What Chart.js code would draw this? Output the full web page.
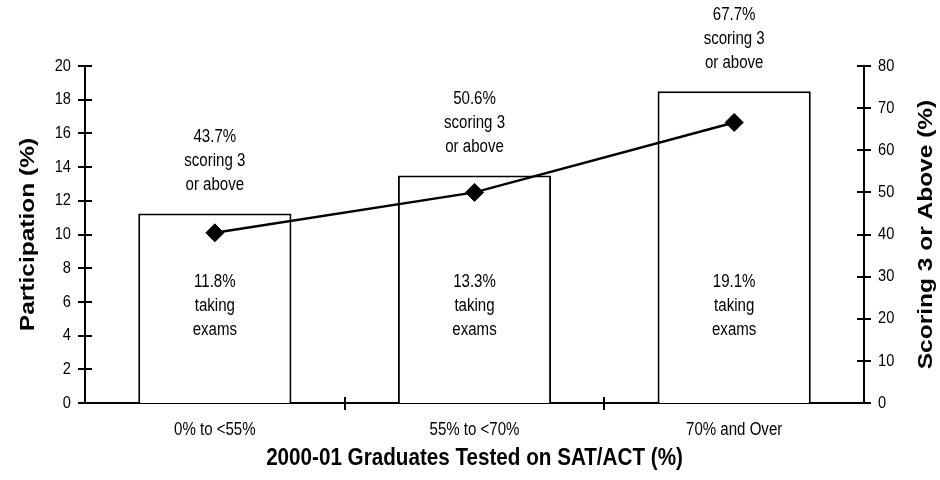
<!DOCTYPE html>
<html><head><meta charset="utf-8">
<script src="https://cdn.jsdelivr.net/npm/chart.js@4.4.1/dist/chart.umd.min.js"></script>
<style>html,body{margin:0;padding:0;background:#fff}</style></head>
<body>
<canvas id="c" width="940" height="480"></canvas>
<script>
const categories = ['0% to <55%', '55% to <70%', '70% and Over'];
const participation = [11.25, 13.5, 18.5];
const scoring = [40.4, 50.0, 66.6];
const scoringLabels = ['43.7%', '50.6%', '67.7%'];
const takingLabels = ['11.8%', '13.3%', '19.1%'];
const scoringText = ['scoring 3', 'or above'];
const takingText = ['taking', 'exams'];
const xTitle = '2000-01 Graduates Tested on SAT/ACT (%)';
const yLeftTitle = 'Participation (%)';
const yRightTitle = 'Scoring 3 or Above (%)';

const FONT = "'Liberation Sans', Arial, sans-serif";
const SQ = 0.86; // horizontal condensing of the original lettering
Chart.defaults.font.family = FONT;
Chart.defaults.color = '#000';

function sqText(ctx, text, x, y, font, rot, align) {
  ctx.save();
  ctx.translate(x, y);
  ctx.scale(SQ, 1);
  if (rot) ctx.rotate(rot);
  ctx.font = font;
  ctx.textAlign = align || 'center';
  ctx.textBaseline = 'middle';
  ctx.fillStyle = '#000';
  ctx.fillText(text, 0, 0);
  ctx.restore();
}

const decor = {
  id: 'decor',
  afterDatasetsDraw(chart) {
    const ctx = chart.ctx;
    const yL = chart.scales.yL, yR = chart.scales.yR, x = chart.scales.x;
    const area = chart.chartArea;
    const tickFont = '17px ' + FONT;
    ctx.save();
    ctx.strokeStyle = '#000';
    ctx.lineWidth = 2;
    yL.ticks.forEach(t => {
      const py = Math.round(yL.getPixelForValue(t.value));
      ctx.beginPath(); ctx.moveTo(yL.right - 7, py); ctx.lineTo(yL.right + 7, py); ctx.stroke();
    });
    yR.ticks.forEach(t => {
      const py = Math.round(yR.getPixelForValue(t.value));
      ctx.beginPath(); ctx.moveTo(yR.left - 7, py); ctx.lineTo(yR.left + 7, py); ctx.stroke();
    });
    for (let i = 0; i < categories.length - 1; i++) {
      const px = Math.round((x.getPixelForValue(i) + x.getPixelForValue(i + 1)) / 2);
      ctx.beginPath(); ctx.moveTo(px, x.top - 6); ctx.lineTo(px, x.top + 7); ctx.stroke();
    }
    ctx.restore();

    yL.ticks.forEach(t => sqText(ctx, String(t.value), yL.right - 14, yL.getPixelForValue(t.value), tickFont, 0, 'right'));
    yR.ticks.forEach(t => sqText(ctx, String(t.value), yR.left + 14, yR.getPixelForValue(t.value), tickFont, 0, 'left'));

    const annFont = '17.5px ' + FONT;
    const lh = 24;
    categories.forEach((c, i) => {
      const cx = x.getPixelForValue(i);
      const top = yL.getPixelForValue(participation[i]);
      const lines = [scoringLabels[i]].concat(scoringText);
      const last = top - 28;
      lines.forEach((l, k) => sqText(ctx, l, cx, last - (lines.length - 1 - k) * lh, annFont));
      const inner = [takingLabels[i]].concat(takingText);
      const first = yL.getPixelForValue(7.2);
      inner.forEach((l, k) => sqText(ctx, l, cx, first + k * lh, annFont));
      sqText(ctx, c, cx, x.top + 27, '17.5px ' + FONT);
    });
    const midX = (area.left + area.right) / 2;
    const midY = (area.top + area.bottom) / 2;
    sqText(ctx, xTitle, midX, 458, 'bold 24px ' + FONT);
    sqText(ctx, yLeftTitle, 28, midY, 'bold 24.5px ' + FONT, -Math.PI / 2);
    sqText(ctx, yRightTitle, 926, midY, 'bold 24.5px ' + FONT, -Math.PI / 2);
  }
};

new Chart(document.getElementById('c'), {
  data: {
    labels: categories,
    datasets: [
      {
        type: 'line', label: 'Scoring 3 or Above', data: scoring, yAxisID: 'yR', order: 0,
        borderColor: '#000', borderWidth: 2.5, backgroundColor: '#000',
        pointStyle: 'rectRot', pointRadius: 9, pointHoverRadius: 9,
        pointBackgroundColor: '#000', pointBorderColor: '#000', pointBorderWidth: 1,
        tension: 0
      },
      {
        type: 'bar', label: 'Participation', data: participation, yAxisID: 'yL', order: 1,
        backgroundColor: '#fff', borderColor: '#000', borderWidth: 2,
        barPercentage: 0.59, categoryPercentage: 1.0
      }
    ]
  },
  options: {
    responsive: false,
    devicePixelRatio: 1,
    animation: false,
    events: [],
    layout: { padding: { left: 0, right: 0, top: 66, bottom: 0 } },
    plugins: { legend: { display: false }, tooltip: { enabled: false } },
    scales: {
      x: {
        grid: { display: false },
        border: { display: true, color: '#000', width: 2 },
        ticks: { display: false },
        afterFit(s) { s.height = 480 - 403; }
      },
      yL: {
        position: 'left', min: 0, max: 20,
        grid: { display: false },
        border: { display: true, color: '#000', width: 2 },
        ticks: { stepSize: 2, display: false },
        afterFit(s) { s.width = 85; }
      },
      yR: {
        position: 'right', min: 0, max: 80,
        grid: { display: false },
        border: { display: true, color: '#000', width: 2 },
        ticks: { stepSize: 10, display: false },
        afterFit(s) { s.width = 940 - 864; }
      }
    }
  },
  plugins: [decor]
});
</script>
</body></html>
